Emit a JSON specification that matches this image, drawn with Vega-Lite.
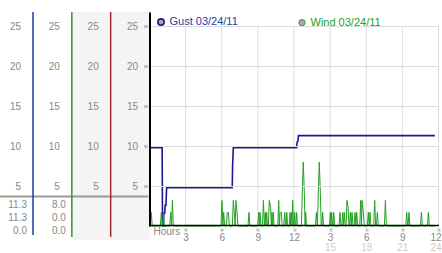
{
  "$schema": "https://vega.github.io/schema/vega-lite/v6.json",
  "width": 289,
  "height": 214,
  "autosize": "none",
  "padding": {"left": 149.5, "top": 12, "right": 3.5, "bottom": 27},
  "background": "#ffffff",
  "config": {
    "view": {"stroke": null},
    "axis": {"labelFont": "Liberation Sans", "labelFontSize": 10, "labelColor": "#888888", "labelOverlap": false, "labelFlush": false},
    "text": {"font": "Liberation Sans"}
  },
  "data": {"values": [{}]},
  "resolve": {
    "scale": {"x": "independent", "y": "independent"},
    "axis": {"x": "independent", "y": "independent"}
  },
  "layer": [
    {
      "mark": {"type": "rect", "color": "#f4f4f4"},
      "encoding": {
        "x": {"datum": 2, "type": "quantitative", "scale": {"domain": [1, 4], "range": [-116.5, 0], "nice": false, "zero": false}, "axis": null},
        "x2": {"datum": 4},
        "y": {"datum": 26.75, "type": "quantitative", "scale": {"domain": [0, 26.75], "nice": false, "zero": false}, "axis": null},
        "y2": {"datum": -1.75}
      }
    },
    {
      "mark": {"type": "rule", "color": "#9a9a9a", "strokeWidth": 2},
      "encoding": {
        "x": {"datum": 0.15, "type": "quantitative", "scale": {"domain": [1, 4], "range": [-116.5, 0], "nice": false, "zero": false}, "axis": null},
        "x2": {"datum": 3.97},
        "y": {"datum": 3.69, "type": "quantitative", "scale": {"domain": [0, 26.75], "nice": false, "zero": false}, "axis": null}
      }
    },
    {
      "mark": {"type": "rule", "color": "#1f3c96", "strokeWidth": 1.5},
      "encoding": {
        "x": {"datum": 1, "type": "quantitative", "scale": {"domain": [1, 4], "range": [-116.5, 0], "nice": false, "zero": false}, "axis": null},
        "y": {"datum": 26.75, "type": "quantitative", "scale": {"domain": [0, 26.75], "nice": false, "zero": false},
              "axis": {"orient": "left", "offset": 116.5, "zindex": 1, "title": null, "domain": false, "ticks": false, "grid": false, "labelPadding": 12.5, "values": [5, 10, 15, 20, 25]}},
        "y2": {"datum": -1.125}
      }
    },
    {
      "mark": {"type": "rule", "color": "#2a9a2a", "strokeWidth": 1.5},
      "encoding": {
        "x": {"datum": 2, "type": "quantitative", "scale": {"domain": [1, 4], "range": [-116.5, 0], "nice": false, "zero": false}, "axis": null},
        "y": {"datum": 26.75, "type": "quantitative", "scale": {"domain": [0, 26.75], "nice": false, "zero": false},
              "axis": {"orient": "left", "offset": 77.7, "zindex": 1, "title": null, "domain": false, "ticks": false, "grid": false, "labelPadding": 12.5, "values": [5, 10, 15, 20, 25]}},
        "y2": {"datum": -1.375}
      }
    },
    {
      "mark": {"type": "rule", "color": "#a52828", "strokeWidth": 1.5},
      "encoding": {
        "x": {"datum": 3, "type": "quantitative", "scale": {"domain": [1, 4], "range": [-116.5, 0], "nice": false, "zero": false}, "axis": null},
        "y": {"datum": 26.75, "type": "quantitative", "scale": {"domain": [0, 26.75], "nice": false, "zero": false},
              "axis": {"orient": "left", "offset": 38.8, "zindex": 1, "title": null, "domain": false, "ticks": false, "grid": false, "labelPadding": 12.5, "values": [5, 10, 15, 20, 25]}},
        "y2": {"datum": -1.375}
      }
    },
    {
      "data": {"values": [{"h": 3}, {"h": 6}, {"h": 9}, {"h": 12}, {"h": 15}, {"h": 18}, {"h": 21}, {"h": 24}]},
      "mark": {"type": "rule", "color": "#dcdcdc", "strokeWidth": 1},
      "encoding": {
        "x": {"field": "h", "type": "quantitative", "scale": {"domain": [0, 24], "nice": false, "zero": false},
              "axis": {"orient": "bottom", "title": null, "domain": false, "ticks": false, "grid": false, "values": [15, 18, 21, 24], "labelPadding": 16, "labelColor": "#cccccc",
                       "labelAlign": {"condition": {"test": "datum.value == 24", "value": "right"}, "value": "center"},
                       "labelOffset": {"condition": {"test": "datum.value == 24", "value": 2.5}, "value": 0}}},
        "y": {"datum": 0, "type": "quantitative", "scale": {"domain": [0, 26.75], "nice": false, "zero": false}, "axis": null},
        "y2": {"datum": 25}
      }
    },
    {
      "data": {"values": [
        {"col": 1, "row": 1, "txt": "11.3"}, {"col": 1, "row": 2, "txt": "11.3"}, {"col": 1, "row": 3, "txt": "0.0"},
        {"col": 2, "row": 1, "txt": "8.0"}, {"col": 2, "row": 2, "txt": "0.0"}, {"col": 2, "row": 3, "txt": "0.0"}
      ]},
      "mark": {"type": "text", "align": "right", "baseline": "middle", "dx": -6, "fontSize": 10, "color": "#888888"},
      "encoding": {
        "x": {"field": "col", "type": "quantitative", "scale": {"domain": [1, 4], "range": [-116.5, 0], "nice": false, "zero": false}, "axis": null},
        "y": {"field": "row", "type": "quantitative", "scale": {"domain": [1, 3], "range": [193, 219], "nice": false, "zero": false}, "axis": null},
        "text": {"field": "txt"}
      }
    },
    {
      "data": {"values": [{"s": "Gust 03/24/11"}, {"s": "Wind 03/24/11"}]},
      "mark": {"type": "point", "filled": true, "opacity": 0},
      "encoding": {
        "fill": {"field": "s", "type": "nominal",
                 "scale": {"domain": ["Gust 03/24/11", "Wind 03/24/11"], "range": ["#a8a8a8", "#a8a8a8"]},
                 "legend": {"orient": "none", "legendX": 6, "legendY": 4.5, "direction": "horizontal", "columns": 2, "columnPadding": 58,
                            "title": null, "padding": 0, "symbolType": "circle", "symbolSize": 40,
                            "symbolStrokeColor": "#a8a8a8", "symbolStrokeWidth": 0, "symbolOpacity": 1,
                            "labelFont": "Liberation Sans", "labelFontSize": 11, "labelOffset": 3,
                            "encode": {
                              "symbols": {"update": {"opacity": {"value": 1}, "fillOpacity": {"value": 1}, "fill": {"value": "#a8a8a8"}, "stroke": {"value": "#a8a8a8"}, "strokeWidth": {"value": 0}}},
                              "labels": {"update": {"fill": {"signal": "datum.value == 'Gust 03/24/11' ? '#2040a0' : '#22a022'"}}}}}}
      }
    },
    {
      "data": {"values": [
        {"s": "Gust 03/24/11", "h": 0, "v": 9.8}, {"s": "Gust 03/24/11", "h": 1.05, "v": 9.8}, {"s": "Gust 03/24/11", "h": 1.08, "v": 0.4},
        {"s": "Gust 03/24/11", "h": 1.12, "v": 0}, {"s": "Gust 03/24/11", "h": 1.16, "v": 0}, {"s": "Gust 03/24/11", "h": 1.19, "v": 1.6},
        {"s": "Gust 03/24/11", "h": 1.26, "v": 1.6}, {"s": "Gust 03/24/11", "h": 1.3, "v": 2.6}, {"s": "Gust 03/24/11", "h": 1.37, "v": 2.6},
        {"s": "Gust 03/24/11", "h": 1.42, "v": 4.8}, {"s": "Gust 03/24/11", "h": 6.87, "v": 4.8}, {"s": "Gust 03/24/11", "h": 6.9, "v": 7.4},
        {"s": "Gust 03/24/11", "h": 6.96, "v": 9.8}, {"s": "Gust 03/24/11", "h": 12.22, "v": 9.8}, {"s": "Gust 03/24/11", "h": 12.26, "v": 10.5},
        {"s": "Gust 03/24/11", "h": 12.33, "v": 10.6}, {"s": "Gust 03/24/11", "h": 12.37, "v": 11.3}, {"s": "Gust 03/24/11", "h": 23.7, "v": 11.3},
        {"s": "Wind 03/24/11", "h": 0, "v": 0},
        {"s": "Wind 03/24/11", "h": 0.07, "v": 0}, {"s": "Wind 03/24/11", "h": 0.15, "v": 1.7}, {"s": "Wind 03/24/11", "h": 0.23, "v": 0},
        {"s": "Wind 03/24/11", "h": 0.9, "v": 0}, {"s": "Wind 03/24/11", "h": 0.98, "v": 1.7}, {"s": "Wind 03/24/11", "h": 1.06, "v": 0},
        {"s": "Wind 03/24/11", "h": 1.1, "v": 0}, {"s": "Wind 03/24/11", "h": 1.15, "v": 1.7}, {"s": "Wind 03/24/11", "h": 1.2, "v": 0},
        {"s": "Wind 03/24/11", "h": 1.68, "v": 0}, {"s": "Wind 03/24/11", "h": 1.76, "v": 1.7}, {"s": "Wind 03/24/11", "h": 1.83, "v": 0},
        {"s": "Wind 03/24/11", "h": 1.9, "v": 3.2}, {"s": "Wind 03/24/11", "h": 1.98, "v": 0},
        {"s": "Wind 03/24/11", "h": 5.94, "v": 0}, {"s": "Wind 03/24/11", "h": 6.02, "v": 3.2}, {"s": "Wind 03/24/11", "h": 6.09, "v": 0},
        {"s": "Wind 03/24/11", "h": 6.16, "v": 1.7}, {"s": "Wind 03/24/11", "h": 6.24, "v": 0},
        {"s": "Wind 03/24/11", "h": 6.38, "v": 0}, {"s": "Wind 03/24/11", "h": 6.46, "v": 1.7}, {"s": "Wind 03/24/11", "h": 6.55, "v": 1.7},
        {"s": "Wind 03/24/11", "h": 6.63, "v": 0},
        {"s": "Wind 03/24/11", "h": 6.88, "v": 0}, {"s": "Wind 03/24/11", "h": 6.96, "v": 3.2}, {"s": "Wind 03/24/11", "h": 7.04, "v": 1.7},
        {"s": "Wind 03/24/11", "h": 7.11, "v": 0}, {"s": "Wind 03/24/11", "h": 7.18, "v": 3.2}, {"s": "Wind 03/24/11", "h": 7.27, "v": 1.7},
        {"s": "Wind 03/24/11", "h": 7.35, "v": 0},
        {"s": "Wind 03/24/11", "h": 8.18, "v": 0}, {"s": "Wind 03/24/11", "h": 8.26, "v": 1.7}, {"s": "Wind 03/24/11", "h": 8.34, "v": 0},
        {"s": "Wind 03/24/11", "h": 8.99, "v": 0}, {"s": "Wind 03/24/11", "h": 9.07, "v": 1.7}, {"s": "Wind 03/24/11", "h": 9.12, "v": 0},
        {"s": "Wind 03/24/11", "h": 9.18, "v": 1.7}, {"s": "Wind 03/24/11", "h": 9.26, "v": 0},
        {"s": "Wind 03/24/11", "h": 9.38, "v": 0}, {"s": "Wind 03/24/11", "h": 9.46, "v": 3.2}, {"s": "Wind 03/24/11", "h": 9.54, "v": 0},
        {"s": "Wind 03/24/11", "h": 9.62, "v": 1.7}, {"s": "Wind 03/24/11", "h": 9.67, "v": 0}, {"s": "Wind 03/24/11", "h": 9.73, "v": 1.7},
        {"s": "Wind 03/24/11", "h": 9.8, "v": 0},
        {"s": "Wind 03/24/11", "h": 9.87, "v": 0}, {"s": "Wind 03/24/11", "h": 9.95, "v": 3.2}, {"s": "Wind 03/24/11", "h": 10.06, "v": 2.4},
        {"s": "Wind 03/24/11", "h": 10.12, "v": 0}, {"s": "Wind 03/24/11", "h": 10.17, "v": 1.7}, {"s": "Wind 03/24/11", "h": 10.22, "v": 0},
        {"s": "Wind 03/24/11", "h": 10.28, "v": 1.7}, {"s": "Wind 03/24/11", "h": 10.35, "v": 0},
        {"s": "Wind 03/24/11", "h": 10.65, "v": 0}, {"s": "Wind 03/24/11", "h": 10.73, "v": 3.2}, {"s": "Wind 03/24/11", "h": 10.79, "v": 0},
        {"s": "Wind 03/24/11", "h": 10.84, "v": 1.7}, {"s": "Wind 03/24/11", "h": 10.95, "v": 1.7}, {"s": "Wind 03/24/11", "h": 11.02, "v": 0},
        {"s": "Wind 03/24/11", "h": 11.15, "v": 0}, {"s": "Wind 03/24/11", "h": 11.23, "v": 1.7}, {"s": "Wind 03/24/11", "h": 11.31, "v": 0},
        {"s": "Wind 03/24/11", "h": 11.34, "v": 0}, {"s": "Wind 03/24/11", "h": 11.4, "v": 1.7}, {"s": "Wind 03/24/11", "h": 11.47, "v": 0},
        {"s": "Wind 03/24/11", "h": 11.6, "v": 0}, {"s": "Wind 03/24/11", "h": 11.67, "v": 1.7}, {"s": "Wind 03/24/11", "h": 11.72, "v": 0},
        {"s": "Wind 03/24/11", "h": 11.78, "v": 1.7}, {"s": "Wind 03/24/11", "h": 11.84, "v": 0}, {"s": "Wind 03/24/11", "h": 11.89, "v": 3.2},
        {"s": "Wind 03/24/11", "h": 11.96, "v": 0},
        {"s": "Wind 03/24/11", "h": 12.0, "v": 0}, {"s": "Wind 03/24/11", "h": 12.06, "v": 1.7}, {"s": "Wind 03/24/11", "h": 12.12, "v": 0},
        {"s": "Wind 03/24/11", "h": 12.16, "v": 0}, {"s": "Wind 03/24/11", "h": 12.22, "v": 1.7}, {"s": "Wind 03/24/11", "h": 12.29, "v": 0},
        {"s": "Wind 03/24/11", "h": 12.61, "v": 0}, {"s": "Wind 03/24/11", "h": 12.69, "v": 4.1}, {"s": "Wind 03/24/11", "h": 12.77, "v": 8.0},
        {"s": "Wind 03/24/11", "h": 12.86, "v": 4.1}, {"s": "Wind 03/24/11", "h": 12.92, "v": 0}, {"s": "Wind 03/24/11", "h": 12.97, "v": 1.7},
        {"s": "Wind 03/24/11", "h": 13.04, "v": 0},
        {"s": "Wind 03/24/11", "h": 13.78, "v": 0}, {"s": "Wind 03/24/11", "h": 13.86, "v": 1.7}, {"s": "Wind 03/24/11", "h": 13.94, "v": 0},
        {"s": "Wind 03/24/11", "h": 14.02, "v": 4.1}, {"s": "Wind 03/24/11", "h": 14.1, "v": 8.0}, {"s": "Wind 03/24/11", "h": 14.19, "v": 4.1},
        {"s": "Wind 03/24/11", "h": 14.26, "v": 0},
        {"s": "Wind 03/24/11", "h": 14.31, "v": 0}, {"s": "Wind 03/24/11", "h": 14.38, "v": 1.7}, {"s": "Wind 03/24/11", "h": 14.46, "v": 0},
        {"s": "Wind 03/24/11", "h": 14.94, "v": 0}, {"s": "Wind 03/24/11", "h": 15.02, "v": 1.7}, {"s": "Wind 03/24/11", "h": 15.07, "v": 0},
        {"s": "Wind 03/24/11", "h": 15.13, "v": 1.7}, {"s": "Wind 03/24/11", "h": 15.2, "v": 0},
        {"s": "Wind 03/24/11", "h": 15.24, "v": 0}, {"s": "Wind 03/24/11", "h": 15.3, "v": 1.7}, {"s": "Wind 03/24/11", "h": 15.38, "v": 0},
        {"s": "Wind 03/24/11", "h": 15.74, "v": 0}, {"s": "Wind 03/24/11", "h": 15.82, "v": 1.7}, {"s": "Wind 03/24/11", "h": 15.9, "v": 0},
        {"s": "Wind 03/24/11", "h": 15.97, "v": 0}, {"s": "Wind 03/24/11", "h": 16.05, "v": 1.7}, {"s": "Wind 03/24/11", "h": 16.11, "v": 0},
        {"s": "Wind 03/24/11", "h": 16.18, "v": 1.7}, {"s": "Wind 03/24/11", "h": 16.25, "v": 0},
        {"s": "Wind 03/24/11", "h": 16.32, "v": 0}, {"s": "Wind 03/24/11", "h": 16.4, "v": 3.2}, {"s": "Wind 03/24/11", "h": 16.49, "v": 2.4},
        {"s": "Wind 03/24/11", "h": 16.57, "v": 0},
        {"s": "Wind 03/24/11", "h": 16.6, "v": 0}, {"s": "Wind 03/24/11", "h": 16.68, "v": 1.7}, {"s": "Wind 03/24/11", "h": 16.75, "v": 0},
        {"s": "Wind 03/24/11", "h": 16.82, "v": 1.7}, {"s": "Wind 03/24/11", "h": 16.9, "v": 0},
        {"s": "Wind 03/24/11", "h": 16.99, "v": 0}, {"s": "Wind 03/24/11", "h": 17.07, "v": 1.7}, {"s": "Wind 03/24/11", "h": 17.14, "v": 0},
        {"s": "Wind 03/24/11", "h": 17.21, "v": 1.7}, {"s": "Wind 03/24/11", "h": 17.29, "v": 0},
        {"s": "Wind 03/24/11", "h": 17.46, "v": 0}, {"s": "Wind 03/24/11", "h": 17.54, "v": 3.2}, {"s": "Wind 03/24/11", "h": 17.6, "v": 0},
        {"s": "Wind 03/24/11", "h": 17.65, "v": 3.2}, {"s": "Wind 03/24/11", "h": 17.76, "v": 1.7}, {"s": "Wind 03/24/11", "h": 17.84, "v": 0},
        {"s": "Wind 03/24/11", "h": 18.09, "v": 0}, {"s": "Wind 03/24/11", "h": 18.17, "v": 1.7}, {"s": "Wind 03/24/11", "h": 18.24, "v": 0},
        {"s": "Wind 03/24/11", "h": 18.31, "v": 1.7}, {"s": "Wind 03/24/11", "h": 18.39, "v": 0},
        {"s": "Wind 03/24/11", "h": 18.62, "v": 0}, {"s": "Wind 03/24/11", "h": 18.7, "v": 3.2}, {"s": "Wind 03/24/11", "h": 18.78, "v": 0},
        {"s": "Wind 03/24/11", "h": 18.85, "v": 0}, {"s": "Wind 03/24/11", "h": 18.92, "v": 1.7}, {"s": "Wind 03/24/11", "h": 19.0, "v": 0},
        {"s": "Wind 03/24/11", "h": 19.51, "v": 0}, {"s": "Wind 03/24/11", "h": 19.59, "v": 3.2}, {"s": "Wind 03/24/11", "h": 19.67, "v": 0},
        {"s": "Wind 03/24/11", "h": 21.28, "v": 0}, {"s": "Wind 03/24/11", "h": 21.36, "v": 1.7}, {"s": "Wind 03/24/11", "h": 21.44, "v": 0},
        {"s": "Wind 03/24/11", "h": 21.47, "v": 0}, {"s": "Wind 03/24/11", "h": 21.55, "v": 1.7}, {"s": "Wind 03/24/11", "h": 21.63, "v": 0},
        {"s": "Wind 03/24/11", "h": 22.5, "v": 0}, {"s": "Wind 03/24/11", "h": 22.58, "v": 1.7}, {"s": "Wind 03/24/11", "h": 22.66, "v": 0},
        {"s": "Wind 03/24/11", "h": 23.08, "v": 0}, {"s": "Wind 03/24/11", "h": 23.16, "v": 1.7}, {"s": "Wind 03/24/11", "h": 23.24, "v": 0},
        {"s": "Wind 03/24/11", "h": 23.7, "v": 0}
      ]},
      "mark": {"type": "line", "interpolate": "linear"},
      "encoding": {
        "x": {"field": "h", "type": "quantitative", "scale": {"domain": [0, 24], "nice": false, "zero": false},
              "axis": {"orient": "bottom", "title": null, "grid": false, "zindex": 1, "offset": -1,
                       "values": [0, 3, 6, 9, 12, 15, 18, 21, 24],
                       "labelExpr": "datum.value == 0 ? 'Hours' : (datum.value > 12 ? datum.value - 12 : datum.value)",
                       "domainColor": "#000000", "domainWidth": 1.5,
                       "tickSize": 6, "tickWidth": 3, "tickColor": "#c4c4c4", "tickDash": [0, 3, 4, 10],
                       "tickOpacity": {"condition": {"test": "datum.value == 0", "value": 0}, "value": 1},
                       "labelAlign": {"condition": [{"test": "datum.value == 0", "value": "left"}, {"test": "datum.value == 24", "value": "right"}], "value": "center"},
                       "labelOffset": {"condition": [{"test": "datum.value == 0", "value": 3.5}, {"test": "datum.value == 24", "value": 2.5}], "value": 0},
                       "labelPadding": {"condition": {"test": "datum.value == 0", "value": -4.7}, "value": 1.2}}},
        "y": {"field": "v", "type": "quantitative", "scale": {"domain": [0, 26.75], "nice": false, "zero": false},
              "axis": {"orient": "left", "title": null, "zindex": 1, "values": [5, 10, 15, 20, 25], "grid": true, "gridColor": "#dcdcdc",
                       "domainColor": "#000000", "domainWidth": 2,
                       "tickSize": 6, "tickWidth": 3, "tickColor": "#c4c4c4", "tickDash": [0, 2, 4, 10],
                       "labelPadding": 6}},
        "color": {"field": "s", "type": "nominal",
                  "scale": {"domain": ["Gust 03/24/11", "Wind 03/24/11"], "range": ["#1a1a90", "#22a022"]},
                  "legend": null},
        "strokeWidth": {"field": "s", "type": "nominal", "scale": {"domain": ["Gust 03/24/11", "Wind 03/24/11"], "range": [1.6, 1]}, "legend": null}
      }
    }
  ]
}
